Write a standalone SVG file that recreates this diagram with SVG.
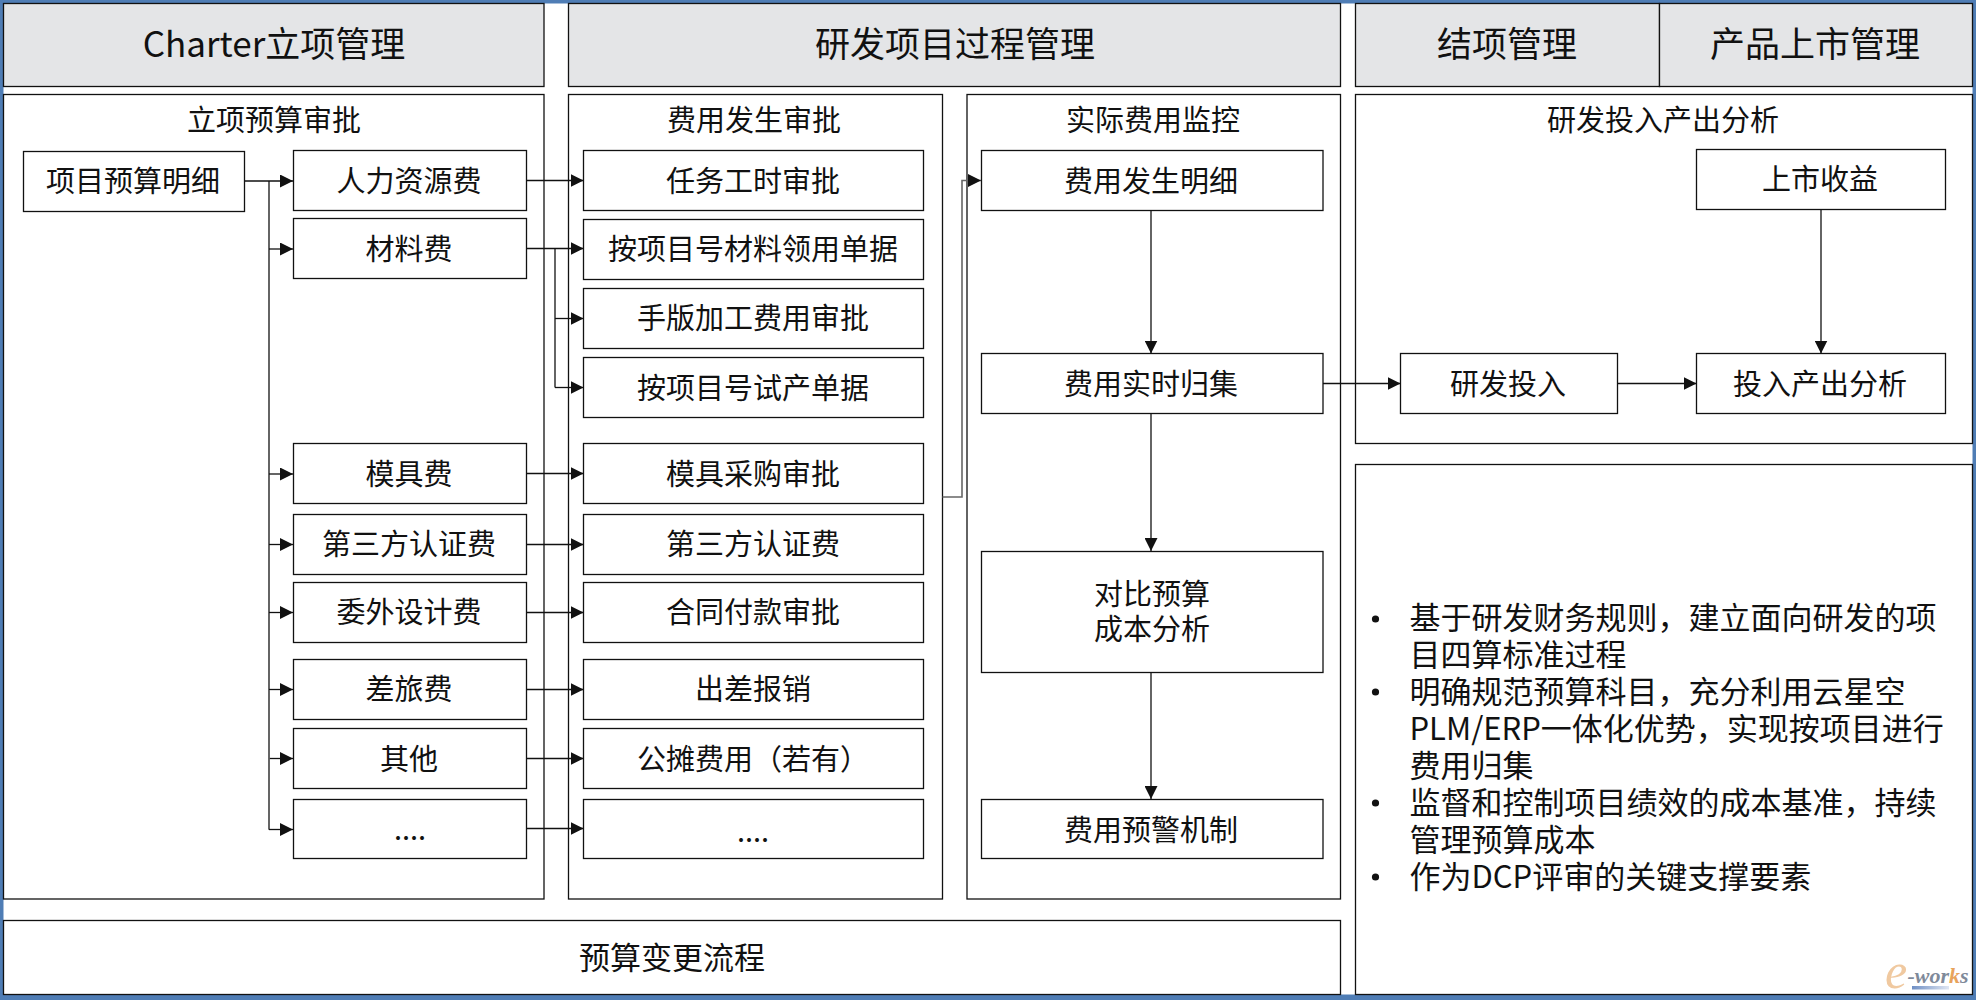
<svg xmlns="http://www.w3.org/2000/svg" width="1976" height="1000" viewBox="0 0 1976 1000">
<style>
text{font-family:"Noto Sans CJK SC","Noto Sans",sans-serif;fill:#111;text-anchor:middle}
.h{font-size:35px}.n{font-size:29px}.b{font-size:31px;text-anchor:start}
.hd{fill:#e4e5e7;stroke:#111;stroke-width:1.3}
.bx{fill:#fff;stroke:#111;stroke-width:1.3}
.c{fill:none;stroke:#111;stroke-width:1.3}
.g{fill:none;stroke:#666;stroke-width:1.6}
</style>
<defs>
<marker id="a" markerUnits="userSpaceOnUse" markerWidth="13" markerHeight="13" refX="13" refY="6.5" orient="auto"><path d="M0 0L13 6.5L0 13Z" fill="#111"/></marker>
<linearGradient id="wb" x1="0" x2="1" y1="0" y2="0"><stop offset="0" stop-color="#6f8fc4"/><stop offset="1" stop-color="#dfe6f2"/></linearGradient>
</defs>
<rect width="1976" height="1000" fill="#4f7db5"/>
<rect x="3.5" y="3.5" width="1969" height="991" fill="#fff"/>
<g id="hdr-charter"><rect class="hd" x="3.5" y="3.5" width="540.5" height="83"/><text class="h" x="274" y="57">Charter立项管理</text></g>
<g id="hdr-rd"><rect class="hd" x="568.5" y="3.5" width="772" height="83"/><text class="h" x="955" y="57">研发项目过程管理</text></g>
<g id="hdr-close"><rect class="hd" x="1355.5" y="3.5" width="304" height="83"/><text class="h" x="1507" y="57">结项管理</text></g>
<g id="hdr-market"><rect class="hd" x="1659.5" y="3.5" width="313" height="83"/><text class="h" x="1815" y="57">产品上市管理</text></g>
<g id="panel-budget"><rect class="bx" x="3.5" y="94.5" width="540.5" height="804.5"/><text class="n" x="274" y="131">立项预算审批</text></g>
<g id="panel-approve"><rect class="bx" x="568.5" y="94.5" width="374" height="804.5"/><text class="n" x="754" y="131">费用发生审批</text></g>
<g id="panel-monitor"><rect class="bx" x="967" y="94.5" width="373.5" height="804.5"/><text class="n" x="1153" y="131">实际费用监控</text></g>
<g id="panel-roi"><rect class="bx" x="1355.5" y="94.5" width="617" height="349"/><text class="n" x="1663" y="131">研发投入产出分析</text></g>
<g id="panel-notes"><rect class="bx" x="1355.5" y="464.5" width="617" height="530"/>
<g class="blt"><circle cx="1375.5" cy="619" r="3.6" fill="#111"/><circle cx="1375.5" cy="692" r="3.6" fill="#111"/><circle cx="1375.5" cy="803" r="3.6" fill="#111"/><circle cx="1375.5" cy="877" r="3.6" fill="#111"/></g>
<text class="b" x="1409.5" y="629">基于研发财务规则，建立面向研发的项</text>
<text class="b" x="1409.5" y="666">目四算标准过程</text>
<text class="b" x="1409.5" y="703">明确规范预算科目，充分利用云星空</text>
<text class="b" x="1409.5" y="740">PLM/ERP一体化优势，实现按项目进行</text>
<text class="b" x="1409.5" y="777">费用归集</text>
<text class="b" x="1409.5" y="814">监督和控制项目绩效的成本基准，持续</text>
<text class="b" x="1409.5" y="851">管理预算成本</text>
<text class="b" x="1409.5" y="888">作为DCP评审的关键支撑要素</text>
</g>
<g id="panel-change"><rect class="bx" x="3.5" y="920.5" width="1337" height="74"/><text x="672" y="969" style="font-size:31px">预算变更流程</text></g>

<g id="connectors">
<path class="c" d="M244.6 181H293" marker-end="url(#a)"/>
<path class="c" d="M269 181V829.5"/>
<path class="c" d="M269 249H293" marker-end="url(#a)"/>
<path class="c" d="M269 474H293" marker-end="url(#a)"/>
<path class="c" d="M269 544.5H293" marker-end="url(#a)"/>
<path class="c" d="M269 612.5H293" marker-end="url(#a)"/>
<path class="c" d="M269 689.5H293" marker-end="url(#a)"/>
<path class="c" d="M269 758.5H293" marker-end="url(#a)"/>
<path class="g" d="M269 690V829.5"/>
<path class="c" d="M269 829.5H293" marker-end="url(#a)"/>
<path class="c" d="M526.5 180.5H583.5" marker-end="url(#a)"/>
<path class="c" d="M526.5 248.5H583.5" marker-end="url(#a)"/>
<path class="c" d="M555 248.5V387.5"/>
<path class="c" d="M555 318.5H583.5" marker-end="url(#a)"/>
<path class="c" d="M555 387.5H583.5" marker-end="url(#a)"/>
<path class="c" d="M526.5 473.5H583.5" marker-end="url(#a)"/>
<path class="c" d="M526.5 544.5H583.5" marker-end="url(#a)"/>
<path class="c" d="M526.5 612.5H583.5" marker-end="url(#a)"/>
<path class="c" d="M526.5 689.5H583.5" marker-end="url(#a)"/>
<path class="c" d="M526.5 758.5H583.5" marker-end="url(#a)"/>
<path class="c" d="M526.5 828.5H583.5" marker-end="url(#a)"/>
<path class="g" d="M942.5 497H962V180.5H981" marker-end="url(#a)"/>
<path class="c" d="M1151 210.5V353.5" marker-end="url(#a)"/>
<path class="c" d="M1151 413.5V551" marker-end="url(#a)"/>
<path class="c" d="M1151 673V799" marker-end="url(#a)"/>
<path class="c" d="M1323 383.5H1400.5" marker-end="url(#a)"/>
<path class="c" d="M1617.5 383.5H1696.5" marker-end="url(#a)"/>
<path class="c" d="M1821 209.5V353.5" marker-end="url(#a)"/>
</g>

<g id="n-detail"><rect class="bx" x="23.5" y="151.5" width="221" height="60"/><text class="n" x="133" y="192">项目预算明细</text></g>
<g id="n-hr"><rect class="bx" x="293.5" y="150.5" width="233" height="60"/><text class="n" x="409" y="192">人力资源费</text></g>
<g id="n-mat"><rect class="bx" x="293.5" y="218.5" width="233" height="60"/><text class="n" x="409" y="260">材料费</text></g>
<g id="n-mold"><rect class="bx" x="293.5" y="443.5" width="233" height="60"/><text class="n" x="409" y="485">模具费</text></g>
<g id="n-cert"><rect class="bx" x="293.5" y="514.5" width="233" height="60"/><text class="n" x="409" y="555">第三方认证费</text></g>
<g id="n-out"><rect class="bx" x="293.5" y="582.5" width="233" height="60"/><text class="n" x="409" y="623">委外设计费</text></g>
<g id="n-trv"><rect class="bx" x="293.5" y="659.5" width="233" height="60"/><text class="n" x="409" y="700">差旅费</text></g>
<g id="n-oth"><rect class="bx" x="293.5" y="728.5" width="233" height="60"/><text class="n" x="409" y="770">其他</text></g>
<g id="n-more1"><rect class="bx" x="293.5" y="799.5" width="233" height="59"/><text class="n" x="410" y="840">....</text></g>
<g id="m-task"><rect class="bx" x="583.5" y="150.5" width="340" height="60"/><text class="n" x="753" y="192">任务工时审批</text></g>
<g id="m-req"><rect class="bx" x="583.5" y="219.5" width="340" height="60"/><text class="n" x="753" y="260">按项目号材料领用单据</text></g>
<g id="m-proto"><rect class="bx" x="583.5" y="288.5" width="340" height="60"/><text class="n" x="753" y="329">手版加工费用审批</text></g>
<g id="m-trial"><rect class="bx" x="583.5" y="357.5" width="340" height="60"/><text class="n" x="753" y="399">按项目号试产单据</text></g>
<g id="m-mold"><rect class="bx" x="583.5" y="443.5" width="340" height="60"/><text class="n" x="753" y="485">模具采购审批</text></g>
<g id="m-cert"><rect class="bx" x="583.5" y="514.5" width="340" height="60"/><text class="n" x="753" y="555">第三方认证费</text></g>
<g id="m-pay"><rect class="bx" x="583.5" y="582.5" width="340" height="60"/><text class="n" x="753" y="623">合同付款审批</text></g>
<g id="m-trv"><rect class="bx" x="583.5" y="659.5" width="340" height="60"/><text class="n" x="753" y="700">出差报销</text></g>
<g id="m-share"><rect class="bx" x="583.5" y="728.5" width="340" height="60"/><text class="n" x="753" y="770">公摊费用（若有）</text></g>
<g id="m-more"><rect class="bx" x="583.5" y="799.5" width="340" height="59"/><text class="n" x="753" y="842">....</text></g>
<g id="c-detail"><rect class="bx" x="981.5" y="150.5" width="341.5" height="60"/><text class="n" x="1151" y="192">费用发生明细</text></g>
<g id="c-collect"><rect class="bx" x="981.5" y="353.5" width="341.5" height="60"/><text class="n" x="1151" y="395">费用实时归集</text></g>
<g id="c-compare"><rect class="bx" x="981.5" y="551.5" width="341.5" height="121"/><text class="n" x="1152" y="605">对比预算</text><text class="n" x="1152" y="640">成本分析</text></g>
<g id="c-warn"><rect class="bx" x="981.5" y="799.5" width="341.5" height="59"/><text class="n" x="1151" y="841">费用预警机制</text></g>
<g id="r-rev"><rect class="bx" x="1696.5" y="149.5" width="249" height="60"/><text class="n" x="1820" y="190">上市收益</text></g>
<g id="r-inv"><rect class="bx" x="1400.5" y="353.5" width="217" height="60"/><text class="n" x="1508" y="395">研发投入</text></g>
<g id="r-roi"><rect class="bx" x="1696.5" y="353.5" width="249" height="60"/><text class="n" x="1820" y="395">投入产出分析</text></g>
<g id="watermark"><rect x="1912" y="986" width="37" height="3.5" fill="url(#wb)"/>
<text x="1896" y="988" style="font-family:'Liberation Serif',serif;font-style:italic;font-size:50px;fill:#f0c9a0">e</text>
<text x="1938" y="983" style="font-family:'Liberation Serif',serif;font-style:italic;font-weight:bold;font-size:22px;fill:#7f8a9a">-wor<tspan style="fill:#e8a35c">k</tspan>s</text></g>
</svg>
